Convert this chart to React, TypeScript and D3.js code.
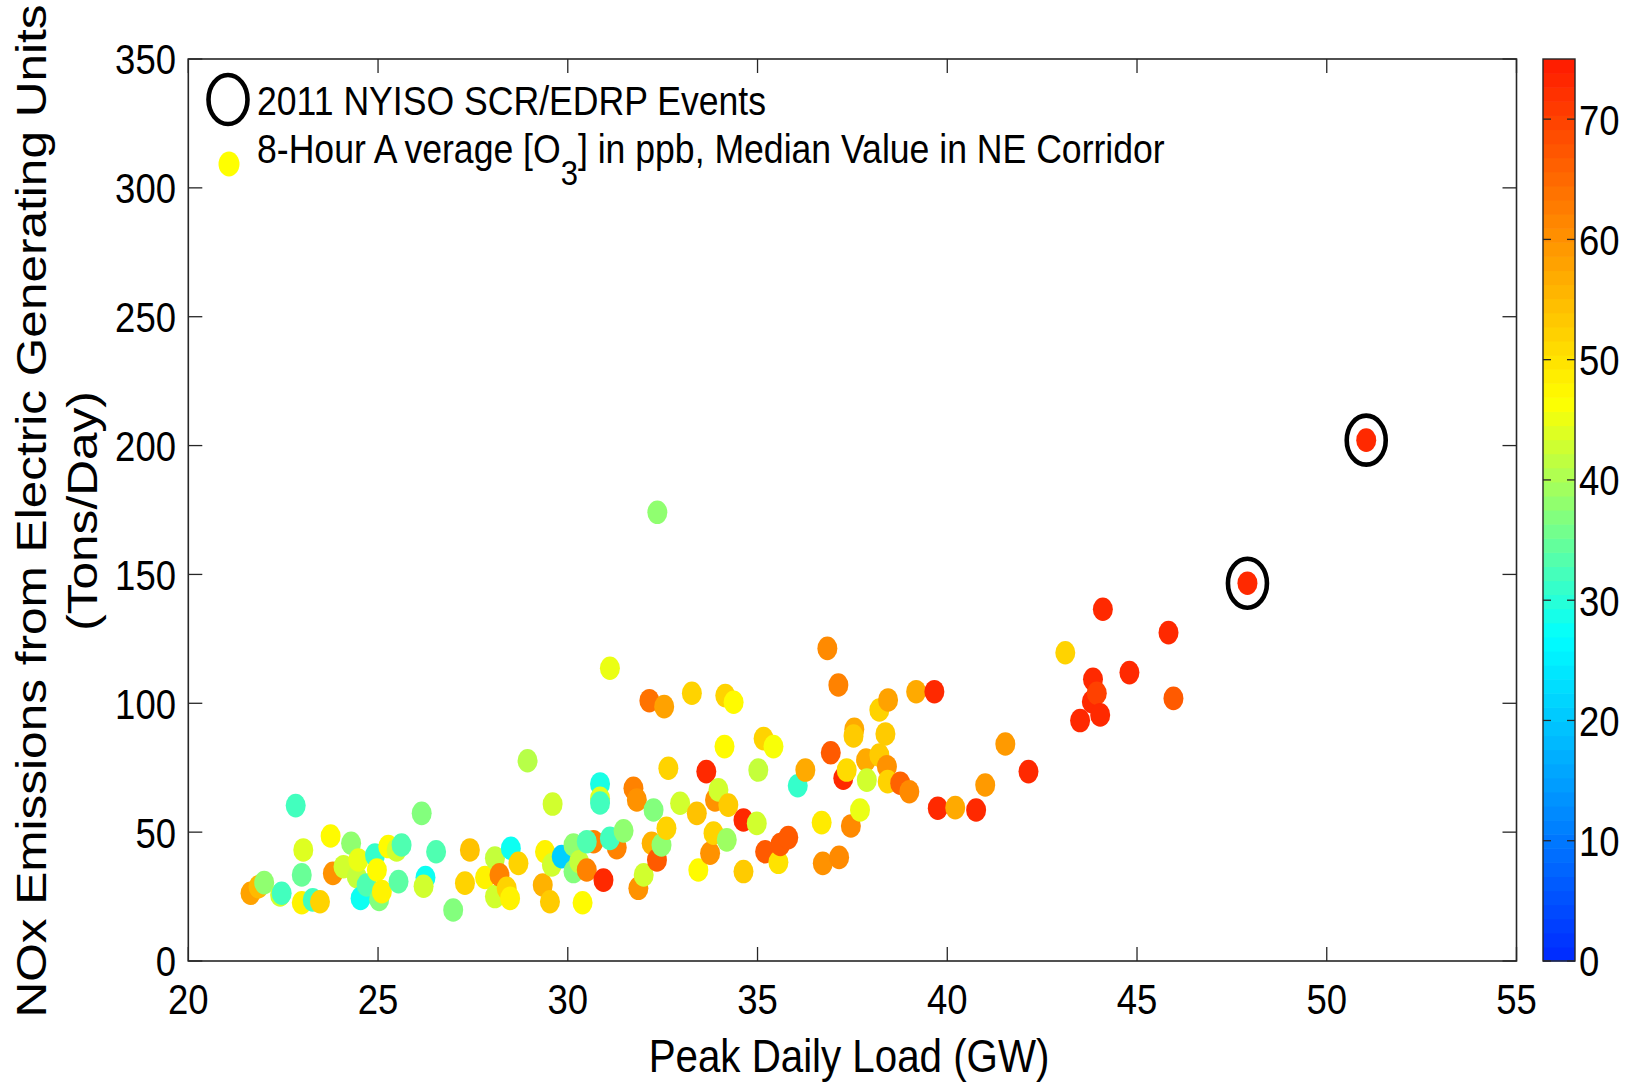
import React from 'react';
import * as d3 from 'd3';

// Peak daily load (GW), NOx emissions (tons/day), 8-hour O3 (ppb)
const loadGW = [
  21.64, 21.85, 22.0, 22.42, 22.46, 22.83, 22.99, 22.99, 23.03, 23.28,
  23.47, 23.75, 23.81, 24.09, 24.29, 24.44, 24.48, 24.54, 24.7, 24.92,
  24.97, 25.03, 25.1, 25.27, 25.49, 25.62, 25.54, 26.15, 26.25, 26.2,
  26.53, 26.98, 27.29, 27.42, 27.82, 28.08, 28.08, 28.2, 28.39, 28.48,
  28.5, 28.7, 28.94, 29.34, 29.4, 29.53, 29.58, 29.6, 29.84, 30.15,
  30.15, 30.3, 30.39, 30.68, 30.5, 30.5, 30.85, 30.85, 30.85, 30.94,
  31.11, 31.29, 31.11, 31.47, 31.73, 31.82, 31.86, 32.0, 32.15, 32.21,
  32.26, 32.35, 32.36, 32.47, 32.54, 32.6, 32.65, 32.96, 33.27, 33.4,
  33.44, 33.65, 33.75, 33.84, 33.88, 33.97, 34.13, 34.15, 34.19, 34.23,
  34.37, 34.63, 34.63, 34.98, 35.02, 35.16, 35.2, 35.42, 35.55, 35.6,
  35.81, 36.06, 36.26, 36.69, 36.72, 36.84, 36.93, 37.13, 37.15, 37.26,
  37.35, 37.46, 37.55, 37.53, 37.7, 37.86, 37.88, 38.21, 38.21, 38.37,
  38.41, 38.43, 38.44, 38.76, 39.0, 39.18, 39.66, 39.75, 40.21, 40.76,
  41.0, 41.53, 42.14, 43.11, 43.5, 43.81, 43.84, 43.94, 44.03, 44.1,
  44.8, 45.83, 45.96, 47.91, 51.04
];
const noxTons = [
  26.3, 28.8, 30.4, 25.6, 26.3, 60.3, 33.4, 22.6, 43.1, 23.7,
  23.0, 48.5, 34.0, 36.6, 45.7, 32.7, 39.2, 24.3, 29.5, 41.1,
  35.3, 23.9, 26.9, 44.4, 43.1, 45.0, 30.8, 57.3, 32.4, 29.0,
  42.4, 19.8, 30.2, 43.1, 32.4, 39.9, 25.0, 33.4, 28.2, 24.3,
  43.7, 37.9, 77.7, 29.5, 42.4, 23.0, 37.3, 60.9, 40.5, 45.0,
  34.7, 38.5, 22.6, 46.3, 46.3, 35.3, 68.7, 63.1, 61.3, 31.4,
  113.6, 44.0, 47.6, 50.5, 67.0, 62.5, 28.2, 33.4, 101.0, 45.7,
  58.6, 39.2, 174.1, 45.0, 98.7, 51.5, 74.8, 61.2, 103.9, 57.3,
  35.3, 73.5, 41.8, 49.6, 62.5, 66.4, 83.2, 103.0, 47.0, 60.5,
  100.4, 54.7, 34.7, 53.4, 74.1, 86.3, 42.4, 83.2, 38.3, 45.2,
  47.9, 68.0, 74.1, 53.7, 37.9, 121.3, 80.8, 107.1, 40.2, 70.9,
  74.1, 52.4, 89.9, 87.3, 58.6, 78.0, 70.2, 97.4, 79.9, 88.1,
  75.4, 69.6, 101.3, 69.0, 65.7, 104.5, 104.5, 59.3, 59.5, 58.6,
  68.3, 84.2, 73.5, 119.6, 93.3, 100.6, 109.3, 103.9, 95.5, 136.5,
  111.9, 127.4, 101.9, 146.6, 202.1
];
const ozonePpb = [
  58, 55, 38, 43, 32, 32, 35, 48, 44, 32,
  52, 47, 60, 43, 38, 42, 45, 28, 33, 31,
  47, 37, 48, 47, 43, 33, 34, 37, 28, 43,
  33, 37, 52, 54, 48, 42, 43, 62, 52, 48,
  28, 52, 41, 56, 48, 53, 43, 43, 21, 38,
  37, 42, 47, 62, 33, 62, 29, 44, 32, 73,
  45, 62, 32, 38, 62, 60, 60, 43, 64, 56,
  37, 67, 38, 38, 58, 52, 52, 43, 52, 54,
  47, 73, 60, 52, 60, 43, 47, 52, 39, 53,
  47, 73, 53, 43, 42, 52, 67, 46, 50, 67,
  67, 31, 57, 49, 60, 61, 67, 62, 61, 73,
  51, 61, 57, 53, 45, 57, 43, 52, 53, 53,
  60, 52, 58, 66, 61, 57, 73, 73, 57, 73,
  59, 59, 73, 52, 73, 73, 73, 70, 73, 73,
  73, 73, 67, 73, 73
];
const eventLoad = [47.91, 51.04];
const eventNox = [146.6, 202.1];

const xTicks = [20, 25, 30, 35, 40, 45, 50, 55];
const yTicks = [0, 50, 100, 150, 200, 250, 300, 350];
const cbTicks = [0, 10, 20, 30, 40, 50, 60, 70];

const legendEvents = '2011 NYISO SCR/EDRP Events';
const xLabel = 'Peak Daily Load (GW)';
const yLabel1 = 'NOx Emissions from Electric Generating Units';
const yLabel2 = '(Tons/Day)';

const W = 1627;
const H = 1084;
const PL = 188.3, PR = 1516.5, PT = 59, PB = 961;
const CBL = 1543, CBR = 1575;
const FONT = '"Liberation Sans", Arial, Helvetica, sans-serif';
const SY = 1.18;
const TICKFS = 36.5;

const x = d3.scaleLinear().domain([20, 55]).range([PL, PR]);
const y = d3.scaleLinear().domain([0, 350]).range([PB, PT]);
const cbY = d3.scaleLinear().domain([0, 75]).range([PB, PT]);
const color = d3
  .scaleLinear<string>()
  .domain([0, 27, 36.75, 46.5, 75])
  .range(['rgb(0,40,255)', 'rgb(0,255,255)', 'rgb(128,255,128)', 'rgb(255,255,0)', 'rgb(255,25,0)'])
  .interpolate(d3.interpolateRgb)
  .clamp(true);

function Txt({ x: tx, y: ty, fs, anchor = 'start', sy = SY, children }: any) {
  return (
    <text
      transform={`translate(${tx},${ty}) scale(1,${sy})`}
      fontSize={fs}
      textAnchor={anchor}
      fontFamily={FONT}
      fill="#000"
    >
      {children}
    </text>
  );
}

export default function App() {
  const tickCap = 0.716 * TICKFS * SY;
  const nBands = 64;
  const bands = d3.range(nBands).map((i) => (i + 0.5) * (75 / nBands));
  const bandH = (PB - PT) / nBands;
  const tickLen = 14;

  return (
    <svg
      width={W}
      height={H}
      style={{ position: 'absolute', left: 0, top: 0, background: '#fff' }}
    >
      <rect x={0} y={0} width={W} height={H} fill="#fff" />

      {/* points */}
      <g>
        {loadGW.map((g, i) => (
          <ellipse
            key={i}
            cx={x(g)}
            cy={y(noxTons[i])}
            rx={10}
            ry={11.8}
            fill={color(ozonePpb[i])}
          />
        ))}
      </g>
      {/* event rings */}
      <g>
        {eventLoad.map((g, i) => (
          <ellipse
            key={i}
            cx={x(g)}
            cy={y(eventNox[i])}
            rx={19.5}
            ry={24.5}
            fill="none"
            stroke="#000"
            strokeWidth={4.6}
          />
        ))}
      </g>

      {/* axes box */}
      <rect x={PL} y={PT} width={PR - PL} height={PB - PT} fill="none" stroke="#262626" strokeWidth={1.6} />
      {xTicks.map((t) => (
        <g key={'xt' + t}>
          <line x1={x(t)} x2={x(t)} y1={PB} y2={PB - tickLen} stroke="#262626" strokeWidth={1.3} />
          <line x1={x(t)} x2={x(t)} y1={PT} y2={PT + tickLen} stroke="#262626" strokeWidth={1.3} />
          <Txt x={x(t)} y={998.5 + tickCap / 2} fs={TICKFS} anchor="middle">
            {t}
          </Txt>
        </g>
      ))}
      {yTicks.map((t) => (
        <g key={'yt' + t}>
          <line x1={PL} x2={PL + tickLen} y1={y(t)} y2={y(t)} stroke="#262626" strokeWidth={1.3} />
          <line x1={PR} x2={PR - tickLen} y1={y(t)} y2={y(t)} stroke="#262626" strokeWidth={1.3} />
          <Txt x={176} y={y(t) + tickCap / 2} fs={TICKFS} anchor="end">
            {t}
          </Txt>
        </g>
      ))}

      {/* legend */}
      <ellipse cx={228} cy={99.5} rx={19.5} ry={24.5} fill="none" stroke="#000" strokeWidth={4.6} />
      <ellipse cx={229} cy={164} rx={10.5} ry={12.5} fill="#ffff00" />
      <Txt x={257} y={115} fs={35.6} sy={1.14}>
        {legendEvents}
      </Txt>
      <text transform={`translate(257,163.3) scale(1,1.14)`} fontSize={35.6} fontFamily={FONT} fill="#000">
        <tspan>8-Hour A</tspan>
        <tspan dx={7}>verage [O</tspan>
        <tspan dy={19} fontSize={31}>3</tspan>
        <tspan dy={-19}>] in ppb, Median Value in NE Corridor</tspan>
      </text>

      {/* axis labels */}
      <Txt x={849} y={1072} fs={40.3} anchor="middle" sy={1.16}>
        {xLabel}
      </Txt>
      <text
        transform={`translate(46,511) rotate(-90) scale(1.18,1)`}
        fontSize={42}
        textAnchor="middle"
        fontFamily={FONT}
        fill="#000"
      >
        {yLabel1}
      </text>
      <text
        transform={`translate(97,511) rotate(-90) scale(1.18,1)`}
        fontSize={42}
        textAnchor="middle"
        fontFamily={FONT}
        fill="#000"
      >
        {yLabel2}
      </text>

      {/* colorbar */}
      <g>
        {bands.map((v, i) => (
          <rect
            key={i}
            x={CBL}
            y={PB - (i + 1) * bandH}
            width={CBR - CBL}
            height={bandH + 0.6}
            fill={color(v)}
          />
        ))}
        <rect x={CBL} y={PT} width={CBR - CBL} height={PB - PT} fill="none" stroke="#262626" strokeWidth={1.4} />
        {cbTicks.map((t) => (
          <g key={'cb' + t}>
            <line x1={CBL} x2={CBL + 8} y1={cbY(t)} y2={cbY(t)} stroke="#262626" strokeWidth={1.3} />
            <line x1={CBR} x2={CBR - 8} y1={cbY(t)} y2={cbY(t)} stroke="#262626" strokeWidth={1.3} />
            <Txt x={1579} y={cbY(t) + tickCap / 2} fs={TICKFS}>
              {t}
            </Txt>
          </g>
        ))}
      </g>
    </svg>
  );
}
